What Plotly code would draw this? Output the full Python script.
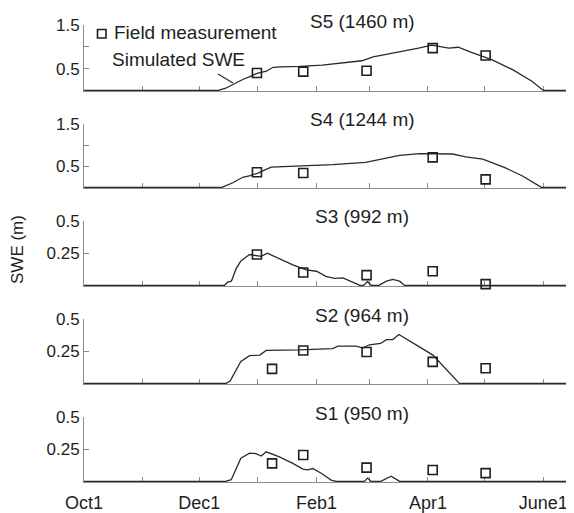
import pandas as pd
import plotly.graph_objects as go

# ---------------- data (days since Oct 1; SWE in m) ----------------
BASE = "2008-10-01"

s5_day = [0, 71, 75, 79, 84, 88, 91.5, 96.5, 100, 104, 114, 126, 138, 147, 153, 167, 177, 184, 189, 193, 198, 205, 216, 227, 237, 243, 280]
s5_swe = [0, 0, 0.05, 0.14, 0.25, 0.32, 0.39, 0.44, 0.53, 0.54, 0.55, 0.58, 0.63, 0.68, 0.77, 0.88, 0.97, 1.04, 1.01, 0.97, 0.99, 0.87, 0.70, 0.47, 0.21, 0, 0]

s4_day = [0, 73, 78.7, 84, 88, 92, 99, 114, 131.6, 149, 160, 167, 177.5, 186, 195, 202, 211, 223, 232, 242, 280]
s4_swe = [0, 0, 0.11, 0.24, 0.28, 0.34, 0.48, 0.50, 0.54, 0.59, 0.70, 0.76, 0.80, 0.80, 0.79, 0.72, 0.67, 0.46, 0.27, 0, 0]

s3_day = [0, 74.3, 76, 78, 80.5, 83, 87.6, 93.7, 97, 103, 110.5, 117.6, 123, 128, 132.5, 137, 141.4, 146, 148, 150, 152, 156, 160, 163.4, 167, 169.6, 280]
s3_swe = [0, 0, 0.025, 0.033, 0.13, 0.19, 0.24, 0.225, 0.25, 0.21, 0.16, 0.12, 0.11, 0.07, 0.054, 0.059, 0.033, 0, 0, 0.03, 0, 0, 0.033, 0.046, 0.033, 0, 0]

s2_day = [0, 75.2, 77.3, 80.5, 83, 87.6, 93, 96.4, 114, 131.6, 134.3, 144, 147.5, 151, 157, 160, 163.4, 166.6, 170.5, 174, 179, 184.6, 191.6, 198.6, 280]
s2_swe = [0, 0, 0.018, 0.11, 0.17, 0.215, 0.22, 0.256, 0.26, 0.27, 0.29, 0.29, 0.274, 0.30, 0.31, 0.34, 0.34, 0.38, 0.344, 0.31, 0.27, 0.22, 0.11, 0, 0]

s1_day = [0, 74.9, 77.9, 80.5, 83, 87.6, 91, 93.8, 96.4, 103.4, 110.5, 115.8, 118.4, 121, 125.5, 130.8, 133.4, 148.4, 150, 152, 157, 162.5, 167, 280]
s1_swe = [0, 0, 0.013, 0.10, 0.18, 0.22, 0.215, 0.197, 0.23, 0.19, 0.14, 0.095, 0.09, 0.10, 0.063, 0.01, 0, 0, 0.026, 0, 0, 0.04, 0, 0]

s5_obs_day = [91.5, 116, 149.5, 184.5, 212.5]
s5_obs = [0.40, 0.43, 0.45, 0.97, 0.80]
s4_obs_day = [91.5, 116, 184.5, 212.5]
s4_obs = [0.36, 0.34, 0.71, 0.19]
s3_obs_day = [91.5, 116, 149.5, 184.5, 212.5]
s3_obs = [0.24, 0.10, 0.08, 0.11, 0.01]
s2_obs_day = [99.5, 116, 149.5, 184.5, 212.5]
s2_obs = [0.113, 0.256, 0.244, 0.167, 0.118]
s1_obs_day = [99.5, 116, 149.5, 184.5, 212.5]
s1_obs = [0.14, 0.205, 0.107, 0.089, 0.064]

titles = ["S5 (1460 m)", "S4 (1244 m)", "S3 (992 m)", "S2 (964 m)", "S1 (950 m)"]
month_ticks = ["2008-10-01", "2008-11-01", "2008-12-01", "2009-01-01", "2009-02-01",
               "2009-03-01", "2009-04-01", "2009-05-01", "2009-06-01"]
month_text = ["Oct1", "", "Dec1", "", "Feb1", "", "Apr1", "", "June1"]

# ---------------- layout geometry (page pixels) ----------------
OFF = 8                      # default page body margin
W, H = 574 - OFF, 513 - OFF  # figure fits the window exactly
AXL = 84                     # page x of the y axes
L = AXL - OFF
PW = W - L
PX_PER_DAY = 1.89
panel_px = [(25, 91), (124, 188), (221, 286), (319, 384), (417, 482)]  # top, bottom (page px)
ymax = [1.5, 1.5, 0.5, 0.5, 0.5]

base = pd.Timestamp(BASE)
def to_dates(days):
    return [base + pd.Timedelta(days=d) for d in days]

def px(x):
    return (x - AXL) / PW

def py(y):
    return 1 - (y - OFF) / H

FONT = "Liberation Sans, Arial, Helvetica, sans-serif"
TXT = "#1e1e1e"
AX = "#8c8c8c"
LINE = "#2a2a2a"

curves = [(s5_day, s5_swe), (s4_day, s4_swe), (s3_day, s3_swe), (s2_day, s2_swe), (s1_day, s1_swe)]
obs = [(s5_obs_day, s5_obs), (s4_obs_day, s4_obs), (s3_obs_day, s3_obs), (s2_obs_day, s2_obs), (s1_obs_day, s1_obs)]

fig = go.Figure()
xr = [base, base + pd.Timedelta(days=PW / PX_PER_DAY)]

for i in range(5):
    sfx = "" if i == 0 else str(i + 1)
    xa, ya = "x" + sfx, "y" + sfx
    d, v = curves[i]
    fig.add_trace(go.Scatter(x=to_dates(d), y=v, mode="lines", xaxis=xa, yaxis=ya,
                             line=dict(color=LINE, width=1.3), showlegend=False,
                             hoverinfo="skip"))
    od, ov = obs[i]
    fig.add_trace(go.Scatter(x=to_dates(od), y=ov, mode="markers", xaxis=xa, yaxis=ya,
                             marker=dict(symbol="square-open", size=9, color=TXT,
                                         line=dict(width=1.6, color=TXT)),
                             showlegend=False, cliponaxis=False))
    top, bot = panel_px[i]
    hgt = bot - top
    pad = ymax[i] * 0.6 / hgt
    if ymax[i] > 1:
        tv, tt = [0.5, 1.0, 1.5], ["0.5", "", "1.5"]
    else:
        tv, tt = [0.25, 0.5], ["0.25", "0.5"]
    fig.layout["xaxis" + sfx] = dict(
        domain=[0, 1], anchor=ya, range=xr, type="date",
        tickmode="array", tickvals=month_ticks, ticktext=month_text,
        showticklabels=(i == 4), ticks="inside", ticklen=5, tickcolor=AX, tickwidth=1,
        showline=True, linecolor=AX, linewidth=1, showgrid=False, zeroline=False,
        layer="below traces", ticklabelstandoff=4,
        tickfont=dict(family=FONT, size=18, color=TXT))
    fig.layout["yaxis" + sfx] = dict(
        domain=[py(bot), py(top)], anchor=xa, range=[-pad, ymax[i]],
        tickmode="array", tickvals=tv, ticktext=tt,
        ticks="inside", ticklen=5, tickcolor=AX, tickwidth=1,
        showline=True, linecolor=AX, linewidth=1, showgrid=False, zeroline=False,
        layer="below traces", tickfont=dict(family=FONT, size=17, color=TXT))

annotations = []
title_y = [21, 120, 217, 315, 413]
for t, yy in zip(titles, title_y):
    annotations.append(dict(text=t, x=px(362), y=py(yy), xref="paper", yref="paper",
                            xanchor="center", yanchor="middle", showarrow=False,
                            font=dict(family=FONT, size=19, color=TXT)))
annotations.append(dict(text="Field measurement", x=px(112), y=py(32), xref="paper", yref="paper",
                        xanchor="left", yanchor="middle", showarrow=False,
                        font=dict(family=FONT, size=19, color=TXT)))
annotations.append(dict(text="Simulated SWE", x=px(110), y=py(60), xref="paper", yref="paper",
                        xanchor="left", yanchor="middle", showarrow=False,
                        font=dict(family=FONT, size=19, color=TXT)))
annotations.append(dict(text="SWE (m)", x=px(17), y=py(250), xref="paper", yref="paper",
                        xanchor="center", yanchor="middle", showarrow=False, textangle=-90,
                        font=dict(family=FONT, size=17, color=TXT)))

shapes = [
    dict(type="rect", xref="paper", yref="paper", x0=px(97.5), x1=px(106), y0=py(38), y1=py(29.5),
         line=dict(color=TXT, width=1.6)),
    dict(type="line", xref="paper", yref="paper", x0=px(218), y0=py(74), x1=px(233), y1=py(83),
         line=dict(color=LINE, width=1.2)),
]

fig.update_layout(width=W, height=H, margin=dict(l=L, r=0, t=0, b=0, autoexpand=False),
                  paper_bgcolor="white", plot_bgcolor="white",
                  annotations=annotations, shapes=shapes, showlegend=False,
                  font=dict(family=FONT, color=TXT))

fig.write_html("out.html")
